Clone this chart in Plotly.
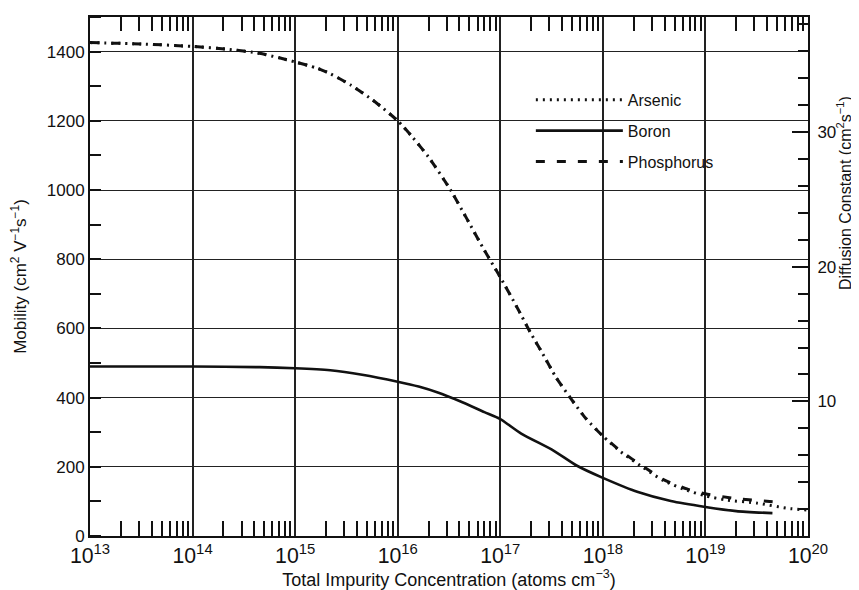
import plotly.graph_objects as go

# ---------------- data ----------------
conc_n = [1e13, 3.2e13, 1e14, 2.2e14, 4.5e14, 7e14, 1e15, 1.6e15, 2.2e15, 3.5e15,
          6e15, 1e16, 1.4e16, 2e16, 3.2e16, 4.7e16, 6.8e16, 1e17, 1.45e17, 1.95e17,
          2.6e17, 3.5e17, 4.8e17, 6.9e17, 1e18, 1.5e18, 2.5e18, 3.9e18, 6.6e18,
          1e19, 1.6e19, 3.2e19, 6.3e19, 1e20]
arsenic = [1426, 1422, 1415, 1407, 1395, 1382, 1370, 1353, 1336, 1303,
           1255, 1200, 1152, 1095, 1005, 918, 832, 748, 662, 590,
           526, 458, 400, 338, 289, 243, 197, 160, 132,
           116, 104, 95, 80, 75]

conc_p = [1e13, 3.2e13, 1e14, 2.2e14, 4.5e14, 7e14, 1e15, 1.6e15, 2.2e15, 3.5e15,
          6e15, 1e16, 1.4e16, 2e16, 3.2e16, 4.7e16, 6.8e16, 1e17, 1.45e17, 1.95e17,
          2.6e17, 3.5e17, 4.8e17, 6.9e17, 1e18, 1.5e18, 2.5e18, 3.9e18, 6.6e18,
          1e19, 2e19, 5e19]
phosphorus = [1426, 1422, 1415, 1407, 1395, 1382, 1370, 1353, 1336, 1303,
              1255, 1200, 1152, 1095, 1005, 918, 832, 748, 662, 590,
              526, 458, 400, 338, 289, 245, 200, 163, 136,
              122, 108, 98]

conc_b = [1e13, 1e14, 4.5e14, 1e15, 2.2e15, 4.5e15, 1e16, 1.6e16, 2.5e16, 4e16,
          7e16, 1e17, 1.6e17, 3.3e17, 5.6e17, 1e18, 2.2e18, 4.6e18, 1e19, 2e19, 4.5e19]
boron = [490, 490, 488, 485, 479, 466, 446, 432, 414, 390,
         358, 338, 296, 247, 203, 168, 127, 101, 84, 72, 66]

series_names = ["Arsenic", "Boron", "Phosphorus"]
mob_ticks = [0, 200, 400, 600, 800, 1000, 1200, 1400]
diff_ticks = [10, 20, 30]
kT_q = 0.0257          # Einstein relation factor used for the right-hand scale
mob_max = 1500

FONT = "Liberation Sans, Arial, sans-serif"
INK = "#111111"

fig = go.Figure()
fig.add_trace(go.Scatter(x=conc_n, y=arsenic, name=series_names[0], mode="lines",
                         line=dict(color=INK, width=3, dash="2px,5px", shape="spline", smoothing=0.6),
                         legendgroup="a"))
fig.add_trace(go.Scatter(x=conc_b, y=boron, name=series_names[1], mode="lines",
                         line=dict(color=INK, width=2.6, shape="spline", smoothing=0.6),
                         legendgroup="b"))
fig.add_trace(go.Scatter(x=conc_p, y=phosphorus, name=series_names[2], mode="lines",
                         line=dict(color=INK, width=3, dash="9px,12px", shape="spline", smoothing=0.6),
                         legendgroup="c"))

# invisible companion traces so that the top axis and the right-hand (diffusion) axis are drawn
fig.add_trace(go.Scatter(x=conc_n, y=arsenic, xaxis="x2", yaxis="y", mode="lines",
                         line=dict(color="rgba(0,0,0,0)"), showlegend=False, hoverinfo="skip"))
fig.add_trace(go.Scatter(x=conc_n, y=[v * kT_q for v in arsenic], xaxis="x", yaxis="y2",
                         mode="lines", line=dict(color="rgba(0,0,0,0)"), showlegend=False,
                         hoverinfo="skip"))

# white area behind the legend (hides the grid there)
fig.add_shape(type="rect", xref="paper", yref="y", x0=0.6125, x1=0.915, y0=1006, y1=1328,
              fillcolor="white", line=dict(width=0), layer="between")

# the page body has an 8px default margin, so the figure is sized to fit the 859x590 window
fig.update_layout(
    width=851, height=582,
    margin=dict(l=82, r=51, t=9, b=54),
    paper_bgcolor="white", plot_bgcolor="white",
    font=dict(family=FONT, size=17, color=INK),
    showlegend=True,
    legend=dict(x=0.614, y=0.873, xanchor="left", yanchor="top",
                bgcolor="rgba(0,0,0,0)", itemwidth=87, traceorder="grouped",
                tracegroupgap=7, font=dict(size=16)),
    xaxis=dict(type="log", range=[13, 20], dtick=1, exponentformat="power",
               showgrid=True, gridcolor="#222222", gridwidth=1.6, automargin=False,
               showline=True, linecolor=INK, linewidth=2, mirror=True,
               ticks="", tickfont=dict(size=17),
               minor=dict(ticks="inside", ticklen=15, tickcolor=INK, tickwidth=1.5,
                          dtick="D1", showgrid=False),
               title=dict(text="Total Impurity Concentration (atoms cm<sup>\u22123</sup>)",
                          font=dict(size=18), standoff=5),
               zeroline=False),
    xaxis2=dict(type="log", range=[13, 20], overlaying="x", side="top", anchor="y",
                showgrid=False, showticklabels=False, ticks="", automargin=False,
                minor=dict(ticks="inside", ticklen=14, tickcolor=INK, tickwidth=1.5,
                           dtick="D1", showgrid=False)),
    yaxis=dict(range=[0, mob_max], tickvals=mob_ticks, showgrid=True, automargin=False,
               gridcolor="#222222", gridwidth=1.3, zeroline=False,
               showline=True, linecolor=INK, linewidth=2,
               ticks="", tickfont=dict(size=17),
               minor=dict(ticks="inside", ticklen=11, tickcolor=INK, tickwidth=1.5,
                          dtick=100, showgrid=False),
               title=dict(text="Mobility (cm<sup>2</sup> V<sup>\u22121</sup>s<sup>\u22121</sup>)",
                          font=dict(size=17), standoff=16)),
    yaxis2=dict(range=[0, mob_max * kT_q], overlaying="y", side="right", anchor="x",
                showgrid=False, zeroline=False, showline=True, linecolor=INK, linewidth=2,
                automargin=False, ticklabelstandoff=4,
                tickvals=diff_ticks, ticks="inside", ticklen=16, tickwidth=1.5, tickcolor=INK,
                tickfont=dict(size=17),
                minor=dict(ticks="inside", ticklen=10, tickcolor=INK, tickwidth=1.5,
                           dtick=2, showgrid=False)),
)

fig.add_annotation(text="Diffusion Constant (cm<sup>2</sup>s<sup>\u22121</sup>)",
                   xref="paper", yref="paper", x=1.051, y=0.66, textangle=-90,
                   showarrow=False, font=dict(size=16, family=FONT, color=INK),
                   xanchor="center", yanchor="middle")

fig.write_html("out.html")
